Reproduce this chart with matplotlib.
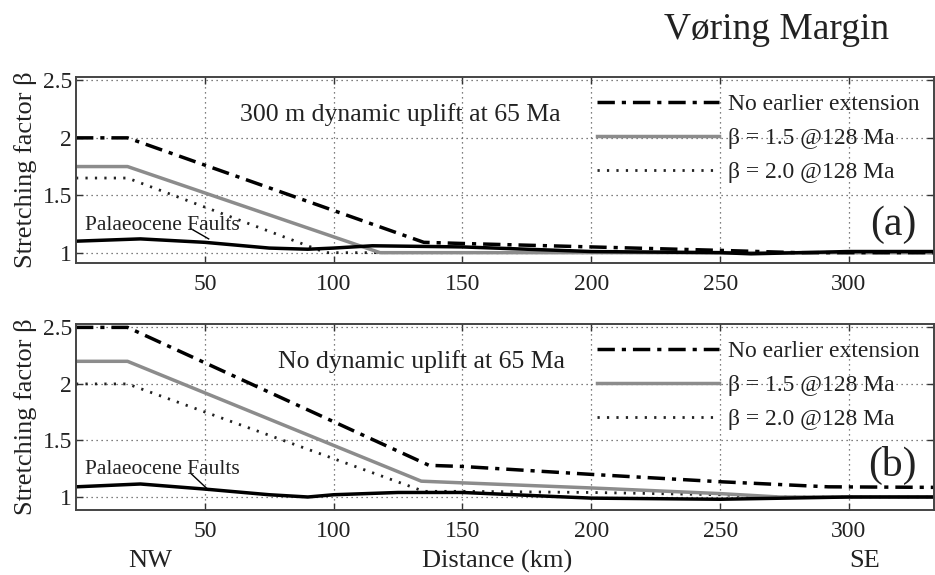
import matplotlib
matplotlib.use("Agg")
import matplotlib.pyplot as plt
from matplotlib.lines import Line2D

plt.rcParams['font.family'] = ['Liberation Serif', 'DejaVu Serif']
plt.rcParams['mathtext.fontset'] = 'stix'

# ---------------- data ----------------
# Panel (a): 300 m dynamic uplift at 65 Ma
a_noext_x = [0, 20, 135, 150, 200, 250, 280, 335]
a_noext_y = [2.0, 2.0, 1.09, 1.08, 1.05, 1.02, 1.0, 1.0]
a_b15_x = [0, 20, 118, 335]
a_b15_y = [1.75, 1.75, 1.0, 1.0]
a_b20_x = [0, 20, 97, 335]
a_b20_y = [1.65, 1.65, 1.0, 1.0]
a_fault_x = [0, 25, 50, 75, 90, 100, 115, 150, 200, 250, 262, 300, 335]
a_fault_y = [1.10, 1.12, 1.09, 1.04, 1.03, 1.04, 1.06, 1.05, 1.01, 1.0, 0.99, 1.01, 1.01]

# Panel (b): No dynamic uplift at 65 Ma
b_noext_x = [0, 20, 137, 150, 200, 250, 292, 335]
b_noext_y = [2.5, 2.5, 1.28, 1.27, 1.20, 1.135, 1.09, 1.085]
b_b15_x = [0, 20, 134, 150, 200, 250, 273, 335]
b_b15_y = [2.2, 2.2, 1.14, 1.125, 1.08, 1.03, 1.0, 1.0]
b_b20_x = [0, 20, 135, 150, 200, 250, 270, 335]
b_b20_y = [2.0, 2.0, 1.05, 1.05, 1.04, 1.02, 1.0, 1.0]
b_fault_x = [0, 25, 50, 75, 90, 100, 125, 150, 200, 250, 300, 335]
b_fault_y = [1.09, 1.115, 1.07, 1.02, 1.0, 1.02, 1.04, 1.04, 0.99, 0.98, 1.0, 1.0]

legend_labels = ["No earlier extension", "β = 1.5 @128 Ma", "β = 2.0 @128 Ma"]
xticks = [50, 100, 150, 200, 250, 300]
yticks = [1, 1.5, 2, 2.5]
ytick_labels = ["1", "1.5", "2", "2.5"]

W, H = 935, 575
fig = plt.figure(figsize=(W / 100, H / 100), dpi=100)


def add_ax(left, top, right, bottom):
    return fig.add_axes([left / W, 1 - bottom / H, (right - left) / W, (bottom - top) / H])


ax_a = add_ax(76, 77, 934, 263)
ax_b = add_ax(76, 324, 934, 510)

gray = '#8c8c8c'
DASHDOT = (0, (5, 2, 1.2, 2))
DOT = (0, (0.8, 2.6))
TXT = '#222222'

panels = [
    (ax_a, a_noext_x, a_noext_y, a_b15_x, a_b15_y, a_b20_x, a_b20_y, a_fault_x, a_fault_y,
     "300 m dynamic uplift at 65 Ma", 0.191, "(a)", 0.205, (0.91, 2.53)),
    (ax_b, b_noext_x, b_noext_y, b_b15_x, b_b15_y, b_b20_x, b_b20_y, b_fault_x, b_fault_y,
     "No dynamic uplift at 65 Ma", 0.235, "(b)", 0.242, (0.885, 2.53)),
]

LEG_FS = 17
for (ax, nx, ny, g1x, g1y, g2x, g2y, fx, fy, note, note_x, tag, tag_y, ylim) in panels:
    ax.set_xlim(0, 333)
    ax.set_ylim(*ylim)
    ax.grid(True, linestyle=(0, (1, 3)), color='#555555', linewidth=0.9)
    ax.set_axisbelow(True)
    ax.plot(g2x, g2y, color=TXT, linestyle=DOT, linewidth=2.0)
    ax.plot(g1x, g1y, color=gray, linestyle='-', linewidth=2.5)
    ax.plot(fx, fy, color='black', linestyle='-', linewidth=2.5)
    ax.plot(nx, ny, color='black', linestyle=DASHDOT, linewidth=2.5)
    ax.set_xticks(xticks)
    ax.set_xticklabels([str(t) for t in xticks])
    ax.set_yticks(yticks)
    ax.set_yticklabels(ytick_labels)
    ax.tick_params(axis='both', direction='in', length=5, width=1.0, labelsize=17,
                   top=True, right=True, color='#333333', labelcolor=TXT)
    ax.tick_params(axis='x', pad=8)
    ax.tick_params(axis='y', pad=3)
    for s in ax.spines.values():
        s.set_linewidth(1.4)
        s.set_color('#444444')
    ax.set_ylabel("Stretching factor β", fontsize=19, labelpad=4, color=TXT)

    handles = [
        Line2D([], [], color='black', linestyle=DASHDOT, linewidth=2.5),
        Line2D([], [], color=gray, linestyle='-', linewidth=2.5),
        Line2D([], [], color=TXT, linestyle=DOT, linewidth=2.0),
    ]
    leg = ax.legend(handles, legend_labels, loc='upper left', bbox_to_anchor=(0.607, 0.91),
                    frameon=False, fontsize=LEG_FS, handlelength=88 / LEG_FS,
                    handletextpad=0.38, labelspacing=0.53, borderaxespad=0, borderpad=0)
    for t in leg.get_texts():
        t.set_color(TXT)
    ax.text(note_x, 0.80, note, transform=ax.transAxes, fontsize=18.5, ha='left', va='center',
            color=TXT)
    ax.text(0.952, tag_y, tag, transform=ax.transAxes, fontsize=30, ha='center', va='center',
            color=TXT)

# Palaeocene Faults labels with leader lines
ax_a.text(3.5, 1.24, "Palaeocene Faults", fontsize=15.5, ha='left', va='center', color=TXT)
ax_a.plot([44.5, 51.5], [1.21, 1.12], color='black', linewidth=1.0)
ax_b.text(3.5, 1.24, "Palaeocene Faults", fontsize=15.5, ha='left', va='center', color=TXT)
ax_b.plot([44.5, 51.5], [1.21, 1.06], color='black', linewidth=1.0)

fig.text(777 / W, 1 - 30 / H, "Vøring Margin", fontsize=27, ha='center', va='center', color=TXT)
fig.text(150 / W, 1 - 561 / H, "NW", fontsize=19, ha='center', va='center', color=TXT)
fig.text(497 / W, 1 - 561 / H, "Distance (km)", fontsize=19, ha='center', va='center', color=TXT)
fig.text(865 / W, 1 - 561 / H, "SE", fontsize=19, ha='center', va='center', color=TXT)

fig.savefig("out.png", dpi=100)
